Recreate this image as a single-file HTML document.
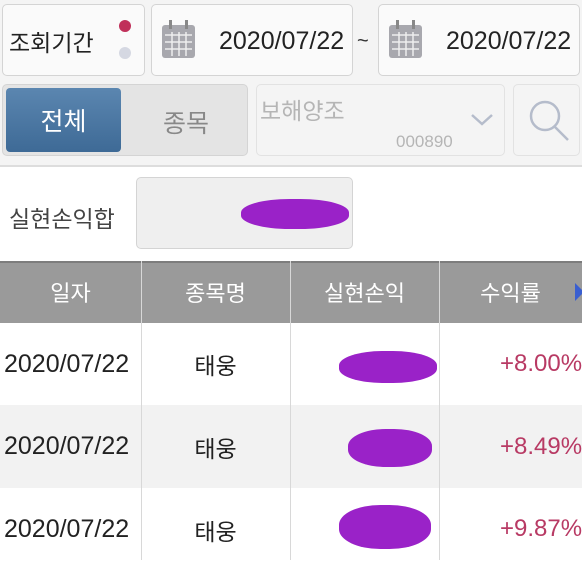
<!DOCTYPE html>
<html><head><meta charset="utf-8"><style>
*{box-sizing:border-box;margin:0;padding:0}
body{width:582px;height:560px;overflow:hidden;background:#fff;font-family:"Liberation Sans","Noto Sans CJK KR",sans-serif;position:relative}
.a{position:absolute}
.box{position:absolute;border:1px solid #d4d4d4;border-radius:5px;background:linear-gradient(#fbfbfb,#ececec)}
.t{position:absolute;white-space:nowrap}
.blob{position:absolute;background:#9a22c8;border-radius:45%}
.cell{position:absolute;display:flex;align-items:center;justify-content:center;font-size:23px;color:#222}
</style></head><body>
<div class="a" style="left:0;top:0;width:582px;height:166px;background:#f4f4f4"></div>
<div class="box" style="left:2px;top:4px;width:143px;height:72px;background:#fafafa"></div>
<div class="t" style="left:9px;top:24px;font-size:23px;color:#222">조회기간</div>
<div class="a" style="left:119px;top:20px;width:12px;height:12px;border-radius:50%;background:#c0305a"></div>
<div class="a" style="left:119px;top:47px;width:12px;height:12px;border-radius:50%;background:#d5d8e2"></div>

<div class="box" style="left:151px;top:4px;width:202px;height:72px;background:#fafafa"></div>
<svg class="a" style="left:161px;top:18px" width="36" height="42"><rect x="1" y="7" width="33" height="33" rx="3" fill="#a8a8ae"/><g stroke="#eee" stroke-width="1.5"><line x1="4" y1="17" x2="31" y2="17"/><line x1="4" y1="24" x2="31" y2="24"/><line x1="4" y1="31" x2="31" y2="31"/><line x1="11" y1="14" x2="11" y2="38"/><line x1="18" y1="14" x2="18" y2="38"/><line x1="25" y1="14" x2="25" y2="38"/></g><rect x="8" y="2" width="3" height="9" fill="#888"/><rect x="24" y="2" width="3" height="9" fill="#888"/></svg>
<div class="t" style="left:219px;top:27px;font-size:25px;color:#222">2020/07/22</div>
<div class="t" style="left:357px;top:30px;font-size:20px;color:#333">~</div>
<div class="box" style="left:378px;top:4px;width:202px;height:72px;background:#fafafa"></div>
<svg class="a" style="left:388px;top:18px" width="36" height="42"><rect x="1" y="7" width="33" height="33" rx="3" fill="#a8a8ae"/><g stroke="#eee" stroke-width="1.5"><line x1="4" y1="17" x2="31" y2="17"/><line x1="4" y1="24" x2="31" y2="24"/><line x1="4" y1="31" x2="31" y2="31"/><line x1="11" y1="14" x2="11" y2="38"/><line x1="18" y1="14" x2="18" y2="38"/><line x1="25" y1="14" x2="25" y2="38"/></g><rect x="8" y="2" width="3" height="9" fill="#888"/><rect x="24" y="2" width="3" height="9" fill="#888"/></svg>
<div class="t" style="left:446px;top:27px;font-size:25px;color:#222">2020/07/22</div>

<div class="box" style="left:2px;top:84px;width:246px;height:72px;background:#e4e4e4"></div>
<div class="a" style="left:6px;top:88px;width:115px;height:64px;border-radius:4px;background:linear-gradient(#5b86b0,#3e6a96);color:#fff;font-size:25px;display:flex;align-items:center;justify-content:center">전체</div>
<div class="t" style="left:163px;top:104px;font-size:25px;color:#888">종목</div>
<div class="box" style="left:256px;top:84px;width:249px;height:72px;background:#f4f4f4;border-color:#e2e2e2"></div>
<div class="t" style="left:260px;top:92px;font-size:23px;color:#b5b5b5">보해양조</div>
<div class="t" style="left:396px;top:132px;font-size:17px;color:#b5b5b5">000890</div>
<svg class="a" style="left:470px;top:112px" width="24" height="16"><polyline points="2,3 12,12 22,3" fill="none" stroke="#b5bccb" stroke-width="2.5"/></svg>
<div class="box" style="left:513px;top:84px;width:67px;height:72px;background:#f4f4f4;border-color:#e2e2e2"></div>
<svg class="a" style="left:525px;top:96px" width="46" height="48"><circle cx="20" cy="20" r="14" fill="none" stroke="#b5bccb" stroke-width="2.5"/><line x1="30" y1="31" x2="43" y2="44" stroke="#b5bccb" stroke-width="2.5"/></svg>
<div class="a" style="left:0;top:165px;width:582px;height:2px;background:#ddd"></div>

<div class="t" style="left:9px;top:200px;font-size:23px;color:#444">실현손익합</div>
<div class="box" style="left:136px;top:177px;width:217px;height:72px;background:#efefef"></div>
<div class="blob" style="left:241px;top:199px;width:108px;height:30px"></div>

<div class="a" style="left:0;top:261px;width:582px;height:62px;background:#9a9a9a;border-top:2px solid #7d7d7d"></div>
<div class="cell" style="left:0;top:261px;width:141px;height:62px;color:#fff;font-size:22px">일자</div>
<div class="cell" style="left:141px;top:261px;width:149px;height:62px;color:#fff;font-size:22px">종목명</div>
<div class="cell" style="left:290px;top:261px;width:149px;height:62px;color:#fff;font-size:22px">실현손익</div>
<div class="cell" style="left:439px;top:261px;width:143px;height:62px;color:#fff;font-size:22px">수익률</div>
<div class="a" style="left:575px;top:283px;width:0;height:0;border-top:9px solid transparent;border-bottom:9px solid transparent;border-left:9px solid #3a5fd0"></div>
<div class="a" style="left:0;top:405px;width:582px;height:83px;background:#f2f2f2"></div>
<div class="a" style="left:141px;top:261px;width:1px;height:299px;background:#d8d8d8"></div>
<div class="a" style="left:290px;top:261px;width:1px;height:299px;background:#d8d8d8"></div>
<div class="a" style="left:439px;top:261px;width:1px;height:299px;background:#d8d8d8"></div>

<div class="t" style="left:4px;top:350px;font-size:25px;color:#222">2020/07/22</div>
<div class="cell" style="left:141px;top:323px;width:149px;height:82px">태웅</div>
<div class="blob" style="left:339px;top:351px;width:98px;height:32px"></div>
<div class="t" style="left:500px;top:350px;font-size:24px;color:#b83a64">+8.00%</div>

<div class="t" style="left:4px;top:432px;font-size:25px;color:#222">2020/07/22</div>
<div class="cell" style="left:141px;top:405px;width:149px;height:83px">태웅</div>
<div class="blob" style="left:348px;top:429px;width:84px;height:38px"></div>
<div class="t" style="left:500px;top:433px;font-size:24px;color:#b83a64">+8.49%</div>

<div class="t" style="left:4px;top:515px;font-size:25px;color:#222">2020/07/22</div>
<div class="cell" style="left:141px;top:488px;width:149px;height:83px">태웅</div>
<div class="blob" style="left:339px;top:505px;width:92px;height:44px"></div>
<div class="t" style="left:500px;top:515px;font-size:24px;color:#b83a64">+9.87%</div>
</body></html>
